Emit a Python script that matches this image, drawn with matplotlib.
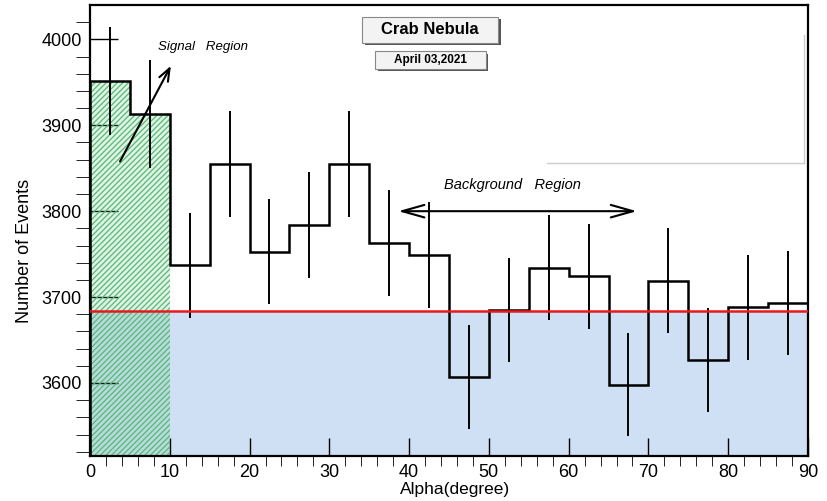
import numpy as np
import matplotlib.pyplot as plt
from matplotlib.patches import Rectangle
from matplotlib.lines import Line2D

plt.rcParams['font.family'] = ['Liberation Sans', 'DejaVu Sans']
plt.rcParams['hatch.linewidth'] = 0.9

# alpha histogram, 5 degree bins
bin_edges = np.arange(0, 95, 5)
counts = [3952, 3913, 3737, 3855, 3753, 3784, 3855, 3763, 3749,
          3607, 3685, 3734, 3724, 3598, 3719, 3627, 3688, 3693]
background_level = 3684
signal_max = 10

title_text = "Crab Nebula"
date_text = "April 03,2021"

counts = np.array(counts, dtype=float)
centers = 0.5 * (bin_edges[:-1] + bin_edges[1:])
errors = np.sqrt(counts)

fig = plt.figure(figsize=(8.28, 5.01), dpi=100)
ax = fig.add_axes([0.1087, 0.0898, 0.8671, 0.9002])
ymin, ymax = 3515, 4040

# background region under the flat level
ax.fill_between([0, 90], ymin, background_level, color='#cfe0f4', lw=0, zorder=1)

# signal region under the histogram
sig = bin_edges[:-1] < signal_max
xs = np.repeat(bin_edges[:3], 2)[1:-1]
ys = np.repeat(counts[sig], 2)
ax.fill_between(xs, ymin, ys, facecolor=(0.3, 0.75, 0.45, 0.18),
                edgecolor='#58b874', hatch='//////', lw=0, zorder=2)

ax.stairs(counts, bin_edges, color='black', lw=1.8, zorder=4)
ax.errorbar(centers, counts, yerr=errors, fmt='none', ecolor='black',
            elinewidth=1.4, capsize=0, zorder=4)
ax.axhline(background_level, color='#e8191e', lw=1.8, zorder=5)

# region arrows
ax.annotate('', xy=(10.3, 3972), xytext=(3.6, 3855),
            arrowprops=dict(arrowstyle='->,head_length=0.9,head_width=0.35',
                            color='black', lw=1.5), zorder=6)
ax.text(8.5, 3991, 'Signal   Region', style='italic', fontsize=9.5,
        ha='left', va='center')
ax.annotate('', xy=(68.9, 3800), xytext=(38.3, 3800),
            arrowprops=dict(arrowstyle='<->,head_length=1.6,head_width=0.45',
                            color='black', lw=1.5), zorder=6)
ax.text(53.0, 3830, 'Background   Region', style='italic', fontsize=10.5,
        ha='center', va='center')

ax.set_xlim(0, 90)
ax.set_ylim(ymin, ymax)
ax.set_xticks(np.arange(0, 91, 10))
ax.set_xticks(np.arange(0, 91, 2), minor=True)
ax.set_yticks([3600, 3700, 3800, 3900, 4000])
ax.set_yticks(np.arange(3520, 4040, 20), minor=True)
ax.tick_params(direction='in', labelsize=13, width=1)
ax.tick_params(axis='x', which='major', length=13, pad=6)
ax.tick_params(axis='x', which='minor', length=7)
ax.tick_params(axis='y', which='major', length=20, pad=6)
ax.tick_params(axis='y', which='minor', length=10)
for s in ax.spines.values():
    s.set_linewidth(1.6)

fig.text(0.030, 0.50, 'Number of Events', rotation=90, ha='center',
         va='center', fontsize=13)
fig.text(0.5495, 0.022, 'Alpha(degree)', ha='center', va='center', fontsize=12.5)

# title boxes with a drop shadow
def label_box(x0, y0, w, h, text, size):
    dx, dy = 2.5 / 828, 2.5 / 501
    fig.patches.append(Rectangle((x0 + dx, y0 - dy), w, h, transform=fig.transFigure,
                                 facecolor='#555555', edgecolor='none', zorder=10))
    fig.patches.append(Rectangle((x0, y0), w, h, transform=fig.transFigure,
                                 facecolor='#f3f3f3', edgecolor='#888888', lw=0.8,
                                 zorder=11))
    fig.text(x0 + w / 2, y0 + h / 2, text, ha='center', va='center',
             fontsize=size, fontweight='bold', zorder=12)

label_box(0.4372, 0.9142, 0.1643, 0.0519, title_text, 12)
label_box(0.4529, 0.8623, 0.1340, 0.0359, date_text, 8.5)

# empty legend frame edges
fig.add_artist(Line2D([0.971, 0.971], [0.6747, 0.930], color='#cccccc', lw=1,
                      transform=fig.transFigure))
fig.add_artist(Line2D([0.6606, 0.971], [0.6747, 0.6747], color='#cccccc', lw=1,
                      transform=fig.transFigure))

fig.savefig('out.png', dpi=100)
